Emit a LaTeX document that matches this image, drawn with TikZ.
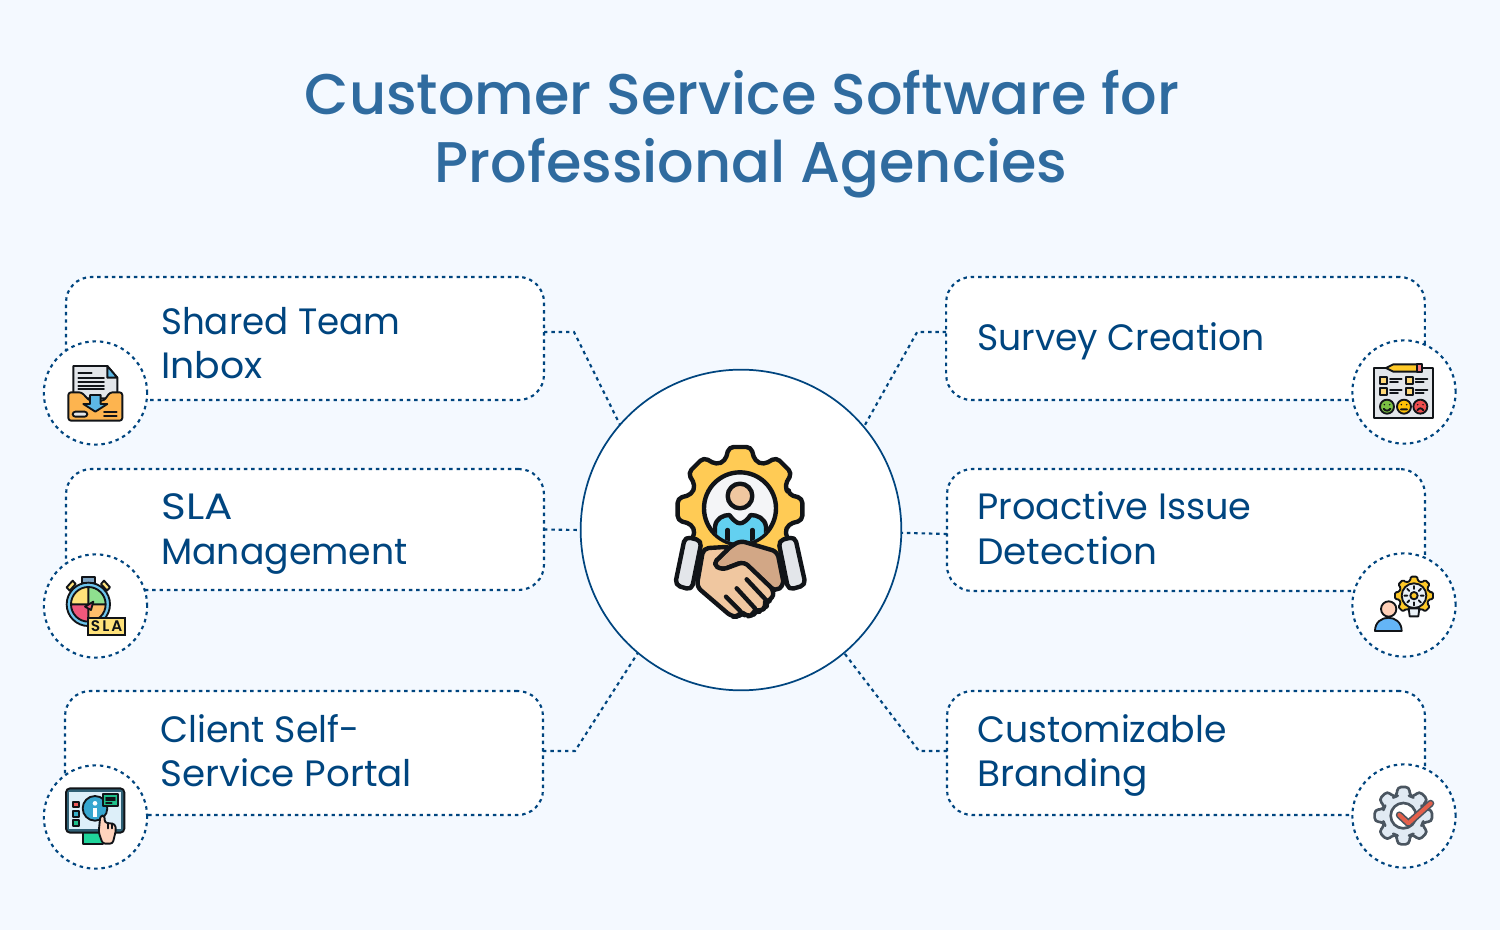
\documentclass[tikz,border=0pt]{standalone}
\usepackage{graphicx}
\usepackage{fontspec}
\setmainfont{Poppins}
\newfontfamily\titlefont{Poppins Medium}
\newfontfamily\bodyfont{Poppins}
\newfontfamily\tagfont{Poppins SemiBold}
\definecolor{pagebg}{HTML}{F4F9FF}
\definecolor{navy}{HTML}{00457F}
\definecolor{titleblue}{HTML}{2F6B9F}
\definecolor{ink}{HTML}{111418}
\definecolor{gearyellow}{HTML}{FFCB55}
\definecolor{skin}{HTML}{F0C7A0}
\definecolor{skindark}{HTML}{D2A786}
\definecolor{cuff}{HTML}{E3E6EA}
\definecolor{sky}{HTML}{63D0F0}
\definecolor{trayorange}{HTML}{FDB44F}
\definecolor{arrowblue}{HTML}{5DB8E5}
\definecolor{ringblue}{HTML}{6EC6EE}
\definecolor{dialyellow}{HTML}{FFE27A}
\definecolor{dialgreen}{HTML}{8FE08F}
\definecolor{dialpink}{HTML}{F0587C}
\definecolor{dialorange}{HTML}{FFBE6B}
\definecolor{crown}{HTML}{7FA6C4}
\definecolor{frame}{HTML}{2F6075}
\definecolor{screen}{HTML}{DDEFF9}
\definecolor{btnred}{HTML}{EE5A5A}
\definecolor{btnteal}{HTML}{38B0C8}
\definecolor{btngreen}{HTML}{1FC08A}
\definecolor{standgreen}{HTML}{20D59B}
\definecolor{infoblue}{HTML}{37A6CF}
\definecolor{fingerpink}{HTML}{FFD3BC}
\definecolor{pencil}{HTML}{FFC928}
\definecolor{eraser}{HTML}{F7787A}
\definecolor{facegreen}{HTML}{7BC043}
\definecolor{faceyellow}{HTML}{FFC107}
\definecolor{facered}{HTML}{F04E4E}
\definecolor{boxyellow}{HTML}{FFD878}
\definecolor{bodyblue}{HTML}{64B5F6}
\definecolor{headpink}{HTML}{FFD0B8}
\definecolor{bulb}{HTML}{EAF1F7}
\definecolor{steel}{HTML}{4A5560}
\definecolor{steelfill}{HTML}{E1EAF3}
\definecolor{checkred}{HTML}{E4604B}
\tikzset{
 dotline/.style={draw=navy,line width=1.6pt,dash pattern=on 2.6pt off 2.9pt},
 cardbox/.style={dotline,fill=white,rectangle,rounded corners=19pt,inner sep=0pt,outer sep=0pt,minimum width=358.5pt},
 iconring/.style={dotline,fill=white,circle,inner sep=0pt,outer sep=0pt,minimum size=77.5pt},
 cardlabel/.style={text=navy,align=left,inner sep=0pt,anchor=base west,font=\bodyfont\fontsize{27.5pt}{33pt}\selectfont},
 titletext/.style={text=titleblue,align=center,inner sep=0pt,font=\titlefont\fontsize{43pt}{51pt}\selectfont},
 ic/.style={draw=ink,line width=1.4pt,line join=round,line cap=round},
 big/.style={draw=ink,line width=3.3pt,line join=round,line cap=round},
 steelline/.style={draw=steel,line width=2pt,line join=round,line cap=round},
 zoomed/.style={x=.25pt,y=-.25pt}
}
\newcommand{\gearpath}[5]{% Rin Rout halfbase halftop n-step
 (-#3:#1) \foreach \a in {0,#5,...,359}{ -- (\a-#3:#1) -- (\a-#4:#2) -- (\a+#4:#2) -- (\a+#3:#1) } -- cycle}
\newcommand{\wdfit}[2]{\scalebox{#1}[1]{#2}}
\begin{document}
\begin{tikzpicture}[x=.75pt,y=-.75pt]
\useasboundingbox (0,0) rectangle (1500,930);
\fill[pagebg] (0,0) rectangle (1500,930);

\node[titletext] (title) at (742,134) {Customer Service Software for\\\hspace*{13.5pt}Professional Agencies};

\node[cardbox,minimum height=92.25pt] (b1) at (305,338.5) {};
\node[cardbox,minimum height=90.75pt] (b2) at (305,529.5) {};
\node[cardbox,minimum height=93pt] (b3) at (304,753) {};
\node[cardbox,minimum height=92.25pt,minimum width=359pt] (b4) at (1185.5,338.5) {};
\node[cardbox,minimum height=91.5pt] (b5) at (1186,530) {};
\node[cardbox,minimum height=93pt] (b6) at (1186,753) {};

\node[circle,draw=navy,line width=1.3pt,fill=white,minimum size=240.5pt,inner sep=0pt,outer sep=0pt] (hub) at (741,530) {};

\draw[dotline] ([yshift=4.9pt]b1.east) -- ++(30,0) -- (hub.139);
\draw[dotline] (b2.east) -- (hub.west);
\draw[dotline] ([yshift=1.5pt]b3.east) -- ++(32,0) -- (hub.230);
\draw[dotline] ([yshift=4.9pt]b4.west) -- ++(-29,0) -- (hub.40);
\draw[dotline] ([yshift=-3pt]b5.west) -- (hub.-1.4);
\draw[dotline] ([yshift=1.5pt]b6.west) -- ++(-28,0) -- (hub.310);

\node[iconring] (r1) at (95.5,393) {};
\node[iconring] (r2) at (95.5,606) {};
\node[iconring] (r3) at (95.5,817) {};
\node[iconring] (r4) at (1404,392) {};
\node[iconring] (r5) at (1404,605) {};
\node[iconring] (r6) at (1404,816) {};

\node[cardlabel] (t1) at (161,379) {\wdfit{.972}{Shared Team}\\\wdfit{1.03}{Inbox}};
\node[cardlabel] (t2) at (161,564) {\wdfit{1.15}{SLA}\\\wdfit{.988}{Management}};
\node[cardlabel] (t3) at (160,786) {\wdfit{.99}{Client Self-}\\\wdfit{1.016}{Service Portal}};
\node[cardlabel] (t4) at (977,351) {\wdfit{.986}{Survey Creation}};
\node[cardlabel] (t5) at (977,564) {Proactive Issue\\\wdfit{1.02}{Detection}};
\node[cardlabel] (t6) at (977,786) {\wdfit{.988}{Customizable}\\\wdfit{1.024}{Branding}};

% central icon
\begin{scope}[shift={(640,420)},zoomed]
 \begin{scope}[shift={(300,268)}]
  \draw[big,fill=gearyellow,rounded corners=3.5pt] \gearpath{152}{190}{17}{10}{45};
 \end{scope}
 \draw[big,fill=white!60!cuff] (300,265) circle (108);
 \begin{scope}
  \clip (300,265) circle (104);
  \draw[big,fill=sky] (225,400) -- (225,320) .. controls (228,295) and (250,285) .. (268,285) .. controls (280,300) and (290,310) .. (300,310) .. controls (310,310) and (322,300) .. (332,285) .. controls (352,285) and (375,295) .. (378,320) -- (378,400) -- cycle;
  \draw[big] (263,330) -- (263,365) (337,330) -- (337,365);
 \end{scope}
 \draw[big,fill=skin] (300,228) circle (37);
 \draw[big,fill=cuff,rounded corners=4pt] (135,350) -- (185,362) -- (155,510) -- (105,495) -- cycle;
 \draw[big,fill=cuff,rounded corners=4pt] (415,362) -- (465,350) -- (497,495) -- (445,510) -- cycle;
 \draw[big,fill=skindark,rounded corners=4pt] (265,385) -- (300,362) -- (412,395) -- (432,495) -- (405,515) -- (310,425) -- (245,450) -- (218,432) -- cycle;
 \draw[big,fill=skin,rounded corners=4pt] (190,385) -- (272,380) -- (218,432) -- (245,450) -- (312,425) -- (403,512) -- (395,540) -- (375,545) -- (380,560) -- (360,575) -- (345,570) -- (340,585) -- (320,590) -- (305,575) -- (295,590) -- (275,590) -- (170,500) -- cycle;
 \draw[big] (320,478) -- (378,540) (290,505) -- (345,565) (258,530) -- (300,572);
\end{scope}

% inbox icon
\begin{scope}[shift={(30,330)},zoomed]
 \draw[ic,fill=cuff] (130,108) -- (232,108) -- (262,143) -- (262,205) -- (130,205) -- cycle;
 \draw[ic,fill=arrowblue] (232,108) -- (232,143) -- (262,143) -- cycle;
 \draw[ic] (145,130) -- (185,130) (145,143) -- (222,143) (145,155) -- (222,155) (145,167) -- (222,167) (145,178) -- (222,178);
 \draw[ic,fill=trayorange,rounded corners=2pt] (115,187) -- (155,187) -- (178,212) -- (222,212) -- (240,187) -- (277,187) -- (277,272) -- (115,272) -- cycle;
 \draw[ic,fill=arrowblue] (180,195) -- (212,195) -- (212,222) -- (232,222) -- (196,245) -- (160,222) -- (180,222) -- cycle;
 \draw[ic,fill=cuff,rounded corners=2pt] (128,245) rectangle (172,260);
 \draw[ic] (222,245) -- (260,245) (222,258) -- (260,258);
\end{scope}

% stopwatch icon
\begin{scope}[shift={(30,545)},zoomed]
 \draw[ic,fill=crown] (155,95) rectangle (195,113);
 \draw[ic,fill=crown] (165,113) rectangle (185,125);
 \draw[ic,fill=dialyellow] (110,127) -- (128,107) -- (137,117) -- (119,137) -- cycle;
 \draw[ic,fill=dialyellow] (240,127) -- (222,107) -- (213,117) -- (231,137) -- cycle;
 \draw[ic,fill=ringblue] (175,178) circle (65);
 \begin{scope}
  \clip (175,178) circle (52);
  \fill[dialyellow] (120,120) rectangle (175,178);
  \fill[dialgreen] (175,120) rectangle (230,178);
  \fill[dialpink] (120,178) rectangle (175,235);
  \fill[dialorange] (175,178) rectangle (230,235);
 \end{scope}
 \draw[ic] (175,178) circle (52) (175,126) -- (175,230) (123,178) -- (227,178);
 \draw[ic,fill=dialpink] (190,170) -- (183,195) -- (165,185) -- cycle;
 \node[draw=ink,line width=1.3pt,fill=dialyellow,inner sep=0pt,minimum width=27.5pt,minimum height=13pt,font=\tagfont\fontsize{11.5pt}{11.5pt}\selectfont\addfontfeature{LetterSpace=14},text=ink] (slatag) at (230,244) {SLA};
\end{scope}

% portal icon
\begin{scope}[shift={(30,755)},zoomed]
 \draw[ic,fill=standgreen] (160,228) rectangle (218,268);
 \draw[ic,fill=frame,rounded corners=3pt] (108,100) rectangle (283,233);
 \fill[screen] (118,110) rectangle (273,223);
 \draw[ic,fill=btnred] (128,140) rectangle (146,157);
 \draw[ic,fill=btnteal] (128,168) rectangle (146,185);
 \draw[ic,fill=btngreen] (128,195) rectangle (146,212);
 \draw[ic,fill=infoblue] (195,160) circle (37);
 \fill[white] (195,145) circle (7);
 \fill[white] (189,158) rectangle (201,186);
 \draw[ic,fill=btngreen] (218,118) rectangle (265,152);
 \draw[ic] (228,128) -- (255,128) (228,136) -- (255,136) (228,144) -- (245,144);
 \draw[ic,fill=fingerpink,rounded corners=2pt] (211,182) -- (224,182) -- (224,203) -- (255,207) -- (258,225) -- (248,266) -- (218,266) -- (206,232) -- cycle;
 \draw[ic] (234,205) -- (234,220) (245,206) -- (245,220);
\end{scope}

% survey icon
\begin{scope}[shift={(1340,330)},zoomed]
 \draw[ic,fill=cuff] (103,115) rectangle (280,263);
 \draw[ic,fill=pencil] (160,103) -- (245,103) -- (245,125) -- (160,125) -- (138,114) -- cycle;
 \draw[ic,fill=eraser] (230,103) rectangle (245,125);
 \foreach \nx/\ny [count=\k] in {120/140,197/140,120/173,197/173}{
  \draw[ic,fill=boxyellow] (\nx,\ny) rectangle ++(22,22);
  \draw[ic] (\nx+30,\ny+6) -- ++(35,0) (\nx+30,\ny+16) -- ++(24,0);
 }
 \draw[ic,fill=facegreen] (141,230) circle (21);
 \draw[ic,fill=faceyellow] (192,230) circle (21);
 \draw[ic,fill=facered] (241,230) circle (21);
 \fill[ink] (133,224) circle (2.5) (149,224) circle (2.5) (184,224) circle (2.5) (200,224) circle (2.5) (233,224) circle (2.5) (249,224) circle (2.5);
 \draw[ic] (131,236) .. controls (136,244) and (146,244) .. (151,236) (183,238) -- (201,238) (232,241) .. controls (237,233) and (245,233) .. (250,241);
\end{scope}

% issue icon
\begin{scope}[shift={(1340,545)},zoomed]
 \draw[ic,fill=bodyblue] (105,258) .. controls (105,205) and (185,205) .. (185,258) -- cycle;
 \draw[ic,fill=headpink] (146,192) circle (23);
 \begin{scope}[shift={(222,152)}]
  \draw[ic,fill=pencil,rounded corners=1pt] \gearpath{46}{58}{14}{10}{45};
  \draw[ic,fill=bulb] (0,0) circle (37);
  \draw[ic] \foreach \a in {0,45,...,315}{ (\a:20) -- (\a:29) };
  \draw[ic,fill=pencil] (0,0) circle (11);
 \end{scope}
 \draw[ic,fill=bulb] (206,190) -- (238,190) -- (235,214) -- (209,214) -- cycle;
\end{scope}

% branding icon
\begin{scope}[shift={(1340,755)},zoomed]
 \begin{scope}[shift={(190,182)}]
  \draw[steelline,fill=steelfill,rounded corners=3pt] \gearpath{62}{88}{18}{12}{45};
  \draw[steelline,fill=white] (0,0) circle (38);
 \end{scope}
 \draw[steelline,line width=5.4pt] (178,180) -- (205,205) -- (272,145);
 \draw[draw=checkred,line width=3pt,line cap=round,line join=round] (178,180) -- (205,205) -- (272,145);
\end{scope}
\end{tikzpicture}
\end{document}
